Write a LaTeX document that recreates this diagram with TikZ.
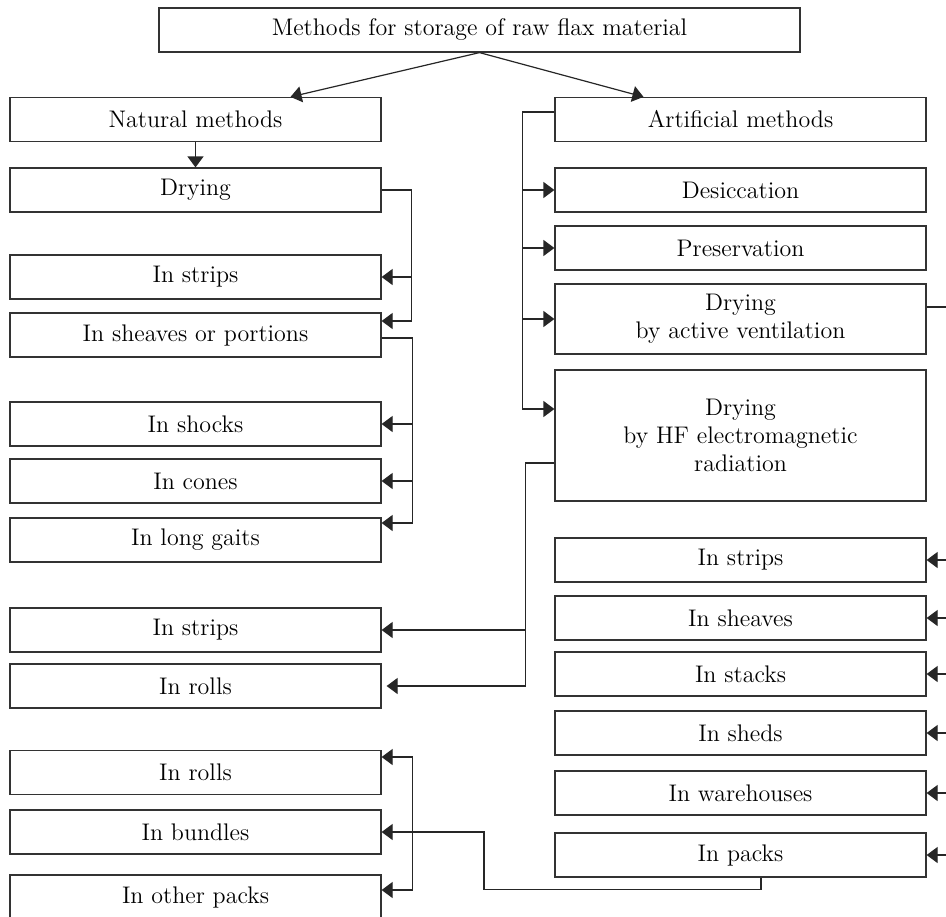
\documentclass[tikz,border=0pt]{standalone}
\usepackage{tikz}
\usetikzlibrary{arrows.meta,calc}

\begin{document}
\begin{tikzpicture}[
  x=0.5pt, y=-0.5pt,
  box/.style={draw=black!80, line width=0.6pt, minimum width=185.5pt, minimum height=22pt,
              inner sep=0pt, align=center, font=\fontsize{12}{14}\selectfont},
  arr/.style={-{Triangle[length=5.5pt,width=8pt]}, line width=0.6pt, draw=black!85},
  ln/.style={line width=0.6pt, draw=black!85},
]
\useasboundingbox (0,0) rectangle (946,916);

% Root
\node[box, minimum width=320.5pt] (root) at (479.5,30) {Methods for storage of raw flax material};

% Natural methods
\node[box] (natural) at (195.5,119.5) {Natural methods};
\node[box] (drying) at (195.5,190) {Drying};
\node[box] (stripsA) at (195.5,277) {In strips};
\node[box] (sheaves) at (195.5,335) {In sheaves or portions};
\node[box] (shocks) at (195.5,424) {In shocks};
\node[box] (cones) at (195.5,481) {In cones};
\node[box] (gaits) at (195.5,540) {In long gaits};
\node[box] (stripsB) at (195.5,630) {In strips};
\node[box] (rollsA) at (195.5,686) {In rolls};
\node[box] (rollsB) at (195.5,772.5) {In rolls};
\node[box] (bundles) at (195.5,832) {In bundles};
\node[box] (otherpacks) at (195.5,897) {In other packs};

% Artificial methods
\node[box] (artificial) at (740.5,119.5) {Artificial methods};
\node[box] (desicc) at (740.5,190) {Desiccation};
\node[box] (preserv) at (740.5,248) {Preservation};
\node[box, minimum height=35pt] (vent) at (740.5,319) {Drying\\by active ventilation};
\node[box, minimum height=65.5pt] (hf) at (740.5,435.5) {Drying\\by HF electromagnetic\\radiation};
\node[box] (stripsR) at (740.5,560) {In strips};
\node[box] (sheavesR) at (740.5,618) {In sheaves};
\node[box] (stacks) at (740.5,674) {In stacks};
\node[box] (sheds) at (740.5,733) {In sheds};
\node[box] (wares) at (740.5,793) {In warehouses};
\node[box] (packs) at (740.5,855) {In packs};

\draw[arr] (root.south) -- ($(natural.north)+(95,0)$);
\draw[arr] (root.south) -- ($(artificial.north)+(-97,0)$);
\draw[arr] (natural) -- (drying);

% drying
\draw[arr] (drying.east) -- ++(30,0) coordinate (d1) |- ($(sheaves.east)+(0,-14)$);
\draw[arr] (d1 |- stripsA.east) -- (stripsA.east);

% sheaves or portions
\draw[arr] ($(sheaves.east)+(0,3)$) -- ++(31,0) coordinate (s1) |- ($(gaits.east)+(0,-17)$);
\draw[arr] (s1 |- shocks.east) -- (shocks.east);
\draw[arr] (s1 |- cones.east) -- (cones.east);

% artificial
\draw[arr] ($(artificial.west)+(0,-7.5)$) -- ++(-32,0) coordinate (a1) |- ($(hf.west)+(0,-26.5)$);
\foreach \n in {desicc,preserv,vent}
  \draw[arr] (a1 |- \n.west) -- (\n.west);

% HF radiation
\draw[arr, shorten >=2.5pt] ($(hf.west)+(0,27.5)$) -- ++(-29,0) coordinate (h1) |- (rollsA.east);
\draw[arr] (h1 |- stripsB.east) -- (stripsB.east);

% active ventilation (trunk lies past the right edge)
\draw[ln] ($(vent.east)+(0,-12)$) -- ++(26,0) coordinate (v1) -- (v1 |- packs.east);
\foreach \n in {stripsR,sheavesR,stacks,sheds,wares,packs}
  \draw[arr] (v1 |- \n.east) -- (\n.east);

% packs
\draw[arr] ($(packs.south)+(20.5,0)$) -- ++(0,12) -- ++(-277,0) coordinate (p1) |- (bundles.east);
\draw[arr] ($(bundles.east)+(31,0)$) coordinate (b1) |- ($(rollsB.east)+(0,-15.5)$);
\draw[arr] (b1) |- ($(otherpacks.east)+(0,-7)$);
\end{tikzpicture}
\end{document}
